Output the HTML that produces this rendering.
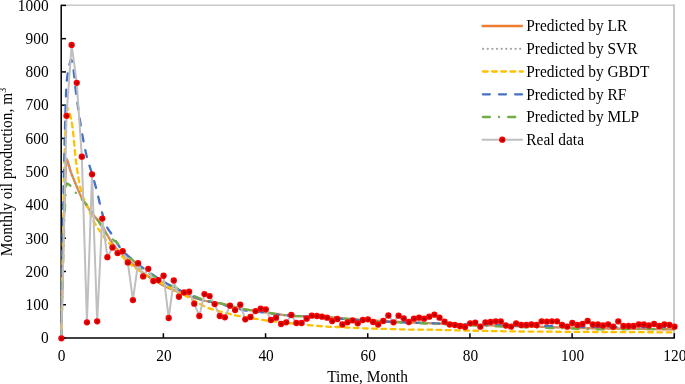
<!DOCTYPE html>
<html><head><meta charset="utf-8"><style>
html,body{margin:0;padding:0;background:#fff;}
svg{display:block;will-change:transform;}
text{font-family:"Liberation Serif",serif;font-size:15.4px;fill:#000;}
</style></head><body>
<svg width="685" height="384" viewBox="0 0 685 384">
<defs><radialGradient id="mk" cx="0.55" cy="0.55" r="0.5"><stop offset="0" stop-color="#9A0000"/><stop offset="0.3" stop-color="#B80000"/><stop offset="0.65" stop-color="#F00000"/><stop offset="1" stop-color="#FF0000"/></radialGradient></defs>
<rect width="685" height="384" fill="#fff"/>
<line x1="61.20" y1="5.2" x2="674.6" y2="5.2" stroke="#C8C8C8" stroke-width="1.5"/>
<line x1="674" y1="4.45" x2="674" y2="338.00" stroke="#C4C4C4" stroke-width="1.8"/>
<g stroke="#000" stroke-width="1.5">
<line x1="61.20" y1="4.80" x2="61.20" y2="338.60"/>
<line x1="60.60" y1="338.00" x2="674.90" y2="338.00"/>
<line x1="61.20" y1="338.00" x2="66.00" y2="338.00"/><line x1="61.20" y1="304.74" x2="66.00" y2="304.74"/><line x1="61.20" y1="271.48" x2="66.00" y2="271.48"/><line x1="61.20" y1="238.22" x2="66.00" y2="238.22"/><line x1="61.20" y1="204.96" x2="66.00" y2="204.96"/><line x1="61.20" y1="171.70" x2="66.00" y2="171.70"/><line x1="61.20" y1="138.44" x2="66.00" y2="138.44"/><line x1="61.20" y1="105.18" x2="66.00" y2="105.18"/><line x1="61.20" y1="71.92" x2="66.00" y2="71.92"/><line x1="61.20" y1="38.66" x2="66.00" y2="38.66"/><line x1="61.20" y1="5.40" x2="66.00" y2="5.40"/><line x1="61.20" y1="338.00" x2="61.20" y2="333.20"/><line x1="163.38" y1="338.00" x2="163.38" y2="333.20"/><line x1="265.57" y1="338.00" x2="265.57" y2="333.20"/><line x1="367.75" y1="338.00" x2="367.75" y2="333.20"/><line x1="469.93" y1="338.00" x2="469.93" y2="333.20"/><line x1="572.12" y1="338.00" x2="572.12" y2="333.20"/><line x1="674.30" y1="338.00" x2="674.30" y2="333.20"/>
</g>
<g>
<path d="M61.20 338.00C62.90 278.58 63.17 210.28 66.31 159.73C66.57 155.51 69.62 169.08 71.42 173.70C73.03 177.83 74.78 181.92 76.53 186.00C78.19 189.90 79.69 193.90 81.64 197.64C83.09 200.44 85.00 202.99 86.75 205.63C88.41 208.14 90.05 210.67 91.85 213.08C93.46 215.21 95.29 217.18 96.96 219.26C98.69 221.40 100.57 223.45 102.07 225.75C103.98 228.66 105.42 231.88 107.18 234.89C108.83 237.70 110.46 240.53 112.29 243.21C113.87 245.51 115.53 247.79 117.40 249.86C118.94 251.56 120.82 252.95 122.51 254.52C124.23 256.12 125.90 257.78 127.62 259.38C129.31 260.96 131.01 262.51 132.73 264.05C134.42 265.57 136.11 267.09 137.84 268.57C139.52 270.01 141.18 271.49 142.95 272.81C144.58 274.04 146.34 275.11 148.06 276.23C149.75 277.33 151.45 278.41 153.16 279.47C154.86 280.51 156.56 281.53 158.27 282.53C159.97 283.52 161.66 284.52 163.38 285.44C165.06 286.34 166.76 287.20 168.49 288.00C170.17 288.77 171.89 289.44 173.60 290.14C175.30 290.83 177.00 291.52 178.71 292.19C180.41 292.85 182.11 293.51 183.82 294.15C185.52 294.79 187.22 295.43 188.93 296.03C190.62 296.62 192.33 297.17 194.04 297.72C195.73 298.25 197.44 298.76 199.15 299.26C200.85 299.77 202.53 300.34 204.26 300.75C205.94 301.14 207.66 301.36 209.37 301.66C211.07 301.96 212.77 302.25 214.47 302.54C216.18 302.84 217.90 303.05 219.58 303.41C221.30 303.77 222.99 304.28 224.69 304.70C226.39 305.12 228.10 305.53 229.80 305.94C231.50 306.35 233.21 306.75 234.91 307.14C236.61 307.53 238.32 307.91 240.02 308.29C241.72 308.66 243.42 309.08 245.13 309.40C246.82 309.71 248.54 309.92 250.24 310.18C251.94 310.43 253.64 310.69 255.35 310.93C257.05 311.18 258.75 311.43 260.46 311.67C262.16 311.91 263.87 312.14 265.57 312.39C267.27 312.64 268.97 312.93 270.68 313.19C272.38 313.45 274.08 313.71 275.78 313.97C277.49 314.22 279.19 314.52 280.89 314.72C282.59 314.92 284.30 315.02 286.00 315.17C287.71 315.32 289.41 315.47 291.11 315.61C292.82 315.76 294.52 315.94 296.22 316.05C297.92 316.15 299.63 316.18 301.33 316.24C303.03 316.31 304.74 316.37 306.44 316.44C308.14 316.50 309.85 316.57 311.55 316.63C313.25 316.69 314.96 316.76 316.66 316.82C318.36 316.88 320.06 316.94 321.77 317.01C323.47 317.07 325.17 317.13 326.88 317.19C328.58 317.26 330.29 317.25 331.99 317.38C333.69 317.50 335.39 317.76 337.09 317.95C338.80 318.14 340.50 318.32 342.20 318.50C343.91 318.69 345.61 318.90 347.31 319.04C349.01 319.18 350.72 319.25 352.42 319.36C354.13 319.46 355.83 319.57 357.53 319.67C359.23 319.77 360.94 319.87 362.64 319.97C364.34 320.07 366.05 320.17 367.75 320.27C369.45 320.37 371.16 320.47 372.86 320.57C374.56 320.67 376.27 320.76 377.97 320.86C379.67 320.96 381.37 321.05 383.08 321.15C384.78 321.24 386.48 321.33 388.19 321.43C389.89 321.52 391.59 321.62 393.30 321.70C395.00 321.79 396.70 321.85 398.40 321.92C400.11 321.99 401.81 322.07 403.51 322.14C405.22 322.21 406.92 322.28 408.62 322.35C410.33 322.42 412.03 322.49 413.73 322.56C415.44 322.63 417.14 322.70 418.84 322.77C420.54 322.84 422.25 322.91 423.95 322.97C425.65 323.04 427.36 323.11 429.06 323.18C430.76 323.24 432.47 323.31 434.17 323.37C435.87 323.44 437.58 323.51 439.28 323.57C440.98 323.64 442.68 323.70 444.39 323.76C446.09 323.83 447.79 323.89 449.50 323.96C451.20 324.02 452.90 324.08 454.61 324.14C456.31 324.21 458.01 324.27 459.71 324.33C461.42 324.39 463.12 324.45 464.82 324.51C466.53 324.58 468.23 324.64 469.93 324.70C471.64 324.75 473.34 324.81 475.04 324.87C476.75 324.92 478.45 324.98 480.15 325.03C481.85 325.09 483.56 325.14 485.26 325.20C486.96 325.25 488.67 325.31 490.37 325.36C492.07 325.42 493.78 325.47 495.48 325.52C497.18 325.58 498.89 325.63 500.59 325.68C502.29 325.74 503.99 325.79 505.70 325.84C507.40 325.89 509.10 325.95 510.81 326.00C512.51 326.05 514.21 326.10 515.92 326.15C517.62 326.20 519.32 326.25 521.02 326.30C522.73 326.35 524.43 326.40 526.13 326.45C527.84 326.50 529.54 326.55 531.24 326.60C532.95 326.65 534.65 326.70 536.35 326.74C538.06 326.79 539.76 326.84 541.46 326.89C543.16 326.94 544.87 326.98 546.57 327.03C548.27 327.08 549.98 327.12 551.68 327.17C553.38 327.22 555.09 327.26 556.79 327.31C558.49 327.35 560.20 327.40 561.90 327.45C563.60 327.49 565.30 327.54 567.01 327.58C568.71 327.63 570.41 327.67 572.12 327.71C573.82 327.76 575.52 327.80 577.23 327.85C578.93 327.89 580.63 327.93 582.33 327.98C584.04 328.02 585.74 328.06 587.44 328.10C589.15 328.15 590.85 328.19 592.55 328.23C594.26 328.27 595.96 328.32 597.66 328.35C599.37 328.39 601.07 328.40 602.77 328.42C604.47 328.45 606.18 328.47 607.88 328.49C609.58 328.52 611.29 328.54 612.99 328.56C614.69 328.59 616.40 328.61 618.10 328.63C619.80 328.65 621.51 328.68 623.21 328.70C624.91 328.72 626.61 328.74 628.32 328.77C630.02 328.79 631.72 328.81 633.43 328.83C635.13 328.86 636.83 328.88 638.54 328.90C640.24 328.92 641.94 328.94 643.64 328.97C645.35 328.99 647.05 329.01 648.75 329.03C650.46 329.05 652.16 329.08 653.86 329.10C655.57 329.12 657.27 329.14 658.97 329.16C660.68 329.18 662.38 329.20 664.08 329.23C665.78 329.25 667.49 329.27 669.19 329.29C670.89 329.31 672.60 329.33 674.30 329.35" stroke="#ED7D31" stroke-width="2.30" fill="none"/><path d="M61.20 338.00C62.90 278.58 63.17 210.28 66.31 159.73C66.57 155.51 69.62 169.08 71.42 173.70C73.03 177.83 74.78 181.92 76.53 186.00C78.19 189.90 79.69 193.90 81.64 197.64C83.09 200.44 85.00 202.99 86.75 205.63C88.41 208.14 90.05 210.67 91.85 213.08C93.46 215.21 95.29 217.18 96.96 219.26C98.69 221.40 100.57 223.45 102.07 225.75C103.98 228.66 105.42 231.88 107.18 234.89C108.83 237.70 110.46 240.53 112.29 243.21C113.87 245.51 115.53 247.79 117.40 249.86C118.94 251.56 120.82 252.95 122.51 254.52C124.23 256.12 125.90 257.78 127.62 259.38C129.31 260.96 131.01 262.51 132.73 264.05C134.42 265.57 136.11 267.09 137.84 268.57C139.52 270.01 141.18 271.49 142.95 272.81C144.58 274.04 146.34 275.11 148.06 276.23C149.75 277.33 151.45 278.41 153.16 279.47C154.86 280.51 156.56 281.53 158.27 282.53C159.97 283.52 161.66 284.52 163.38 285.44C165.06 286.34 166.76 287.20 168.49 288.00C170.17 288.77 171.89 289.44 173.60 290.14C175.30 290.83 177.00 291.52 178.71 292.19C180.41 292.85 182.11 293.51 183.82 294.15C185.52 294.79 187.22 295.43 188.93 296.03C190.62 296.62 192.33 297.17 194.04 297.72C195.73 298.25 197.44 298.76 199.15 299.26C200.85 299.77 202.53 300.34 204.26 300.75C205.94 301.14 207.66 301.36 209.37 301.66C211.07 301.96 212.77 302.25 214.47 302.54C216.18 302.84 217.90 303.05 219.58 303.41C221.30 303.77 222.99 304.28 224.69 304.70C226.39 305.12 228.10 305.53 229.80 305.94C231.50 306.35 233.21 306.75 234.91 307.14C236.61 307.53 238.32 307.91 240.02 308.29C241.72 308.66 243.42 309.08 245.13 309.40C246.82 309.71 248.54 309.92 250.24 310.18C251.94 310.43 253.64 310.69 255.35 310.93C257.05 311.18 258.75 311.43 260.46 311.67C262.16 311.91 263.87 312.14 265.57 312.39C267.27 312.64 268.97 312.93 270.68 313.19C272.38 313.45 274.08 313.71 275.78 313.97C277.49 314.22 279.19 314.52 280.89 314.72C282.59 314.92 284.30 315.02 286.00 315.17C287.71 315.32 289.41 315.47 291.11 315.61C292.82 315.76 294.52 315.94 296.22 316.05C297.92 316.15 299.63 316.18 301.33 316.24C303.03 316.31 304.74 316.37 306.44 316.44C308.14 316.50 309.85 316.57 311.55 316.63C313.25 316.69 314.96 316.76 316.66 316.82C318.36 316.88 320.06 316.94 321.77 317.01C323.47 317.07 325.17 317.13 326.88 317.19C328.58 317.26 330.29 317.25 331.99 317.38C333.69 317.50 335.39 317.76 337.09 317.95C338.80 318.14 340.50 318.32 342.20 318.50C343.91 318.69 345.61 318.90 347.31 319.04C349.01 319.18 350.72 319.25 352.42 319.36C354.13 319.46 355.83 319.57 357.53 319.67C359.23 319.77 360.94 319.87 362.64 319.97C364.34 320.07 366.05 320.17 367.75 320.27C369.45 320.37 371.16 320.47 372.86 320.57C374.56 320.67 376.27 320.76 377.97 320.86C379.67 320.96 381.37 321.05 383.08 321.15C384.78 321.24 386.48 321.33 388.19 321.43C389.89 321.52 391.59 321.62 393.30 321.70C395.00 321.79 396.70 321.85 398.40 321.92C400.11 321.99 401.81 322.07 403.51 322.14C405.22 322.21 406.92 322.28 408.62 322.35C410.33 322.42 412.03 322.49 413.73 322.56C415.44 322.63 417.14 322.70 418.84 322.77C420.54 322.84 422.25 322.91 423.95 322.97C425.65 323.04 427.36 323.11 429.06 323.18C430.76 323.24 432.47 323.31 434.17 323.37C435.87 323.44 437.58 323.51 439.28 323.57C440.98 323.64 442.68 323.70 444.39 323.76C446.09 323.83 447.79 323.89 449.50 323.96C451.20 324.02 452.90 324.08 454.61 324.14C456.31 324.21 458.01 324.27 459.71 324.33C461.42 324.39 463.12 324.45 464.82 324.51C466.53 324.58 468.23 324.64 469.93 324.70C471.64 324.75 473.34 324.81 475.04 324.87C476.75 324.92 478.45 324.98 480.15 325.03C481.85 325.09 483.56 325.14 485.26 325.20C486.96 325.25 488.67 325.31 490.37 325.36C492.07 325.42 493.78 325.47 495.48 325.52C497.18 325.58 498.89 325.63 500.59 325.68C502.29 325.74 503.99 325.79 505.70 325.84C507.40 325.89 509.10 325.95 510.81 326.00C512.51 326.05 514.21 326.10 515.92 326.15C517.62 326.20 519.32 326.25 521.02 326.30C522.73 326.35 524.43 326.40 526.13 326.45C527.84 326.50 529.54 326.55 531.24 326.60C532.95 326.65 534.65 326.70 536.35 326.74C538.06 326.79 539.76 326.84 541.46 326.89C543.16 326.94 544.87 326.98 546.57 327.03C548.27 327.08 549.98 327.12 551.68 327.17C553.38 327.22 555.09 327.26 556.79 327.31C558.49 327.35 560.20 327.40 561.90 327.45C563.60 327.49 565.30 327.54 567.01 327.58C568.71 327.63 570.41 327.67 572.12 327.71C573.82 327.76 575.52 327.80 577.23 327.85C578.93 327.89 580.63 327.93 582.33 327.98C584.04 328.02 585.74 328.06 587.44 328.10C589.15 328.15 590.85 328.19 592.55 328.23C594.26 328.27 595.96 328.32 597.66 328.35C599.37 328.39 601.07 328.40 602.77 328.42C604.47 328.45 606.18 328.47 607.88 328.49C609.58 328.52 611.29 328.54 612.99 328.56C614.69 328.59 616.40 328.61 618.10 328.63C619.80 328.65 621.51 328.68 623.21 328.70C624.91 328.72 626.61 328.74 628.32 328.77C630.02 328.79 631.72 328.81 633.43 328.83C635.13 328.86 636.83 328.88 638.54 328.90C640.24 328.92 641.94 328.94 643.64 328.97C645.35 328.99 647.05 329.01 648.75 329.03C650.46 329.05 652.16 329.08 653.86 329.10C655.57 329.12 657.27 329.14 658.97 329.16C660.68 329.18 662.38 329.20 664.08 329.23C665.78 329.25 667.49 329.27 669.19 329.29C670.89 329.31 672.60 329.33 674.30 329.35" stroke="#A5A5A5" stroke-width="2.30" fill="none" stroke-linecap="round" stroke-dasharray="0.01 4.6"/><path d="M61.20 338.00C62.90 261.17 63.09 176.07 66.31 107.51C66.50 103.45 70.63 115.70 71.42 120.15C74.04 134.99 74.43 150.36 76.53 165.38C77.84 174.75 79.27 184.21 81.64 193.32C82.67 197.30 85.12 200.82 86.75 204.63C88.53 208.81 89.96 213.14 91.85 217.27C93.37 220.57 95.06 223.82 96.96 226.91C98.47 229.36 100.42 231.53 102.07 233.90C103.83 236.41 105.18 239.27 107.18 241.55C108.59 243.15 110.75 244.03 112.29 245.54C114.16 247.36 115.64 249.58 117.40 251.52C119.05 253.35 120.78 255.10 122.51 256.85C124.19 258.54 125.86 260.23 127.62 261.83C129.27 263.34 130.97 264.79 132.73 266.16C134.38 267.45 136.12 268.62 137.84 269.82C139.52 270.99 141.23 272.14 142.95 273.26C144.64 274.38 146.31 275.51 148.06 276.54C149.72 277.52 151.44 278.42 153.16 279.29C154.84 280.14 156.56 280.91 158.27 281.70C159.97 282.48 161.71 283.17 163.38 284.00C165.12 284.87 166.79 285.88 168.49 286.82C170.20 287.75 171.89 288.71 173.60 289.63C175.29 290.53 177.00 291.42 178.71 292.28C180.40 293.14 182.14 293.91 183.82 294.79C185.55 295.71 187.24 296.71 188.93 297.70C190.64 298.69 192.32 299.75 194.04 300.73C195.72 301.70 197.43 302.62 199.15 303.54C200.84 304.44 202.53 305.37 204.26 306.20C205.93 307.00 207.62 307.81 209.37 308.44C211.03 309.04 212.77 309.41 214.47 309.90C216.18 310.38 217.88 310.86 219.58 311.33C221.28 311.80 222.99 312.25 224.69 312.70C226.39 313.14 228.10 313.57 229.80 313.99C231.50 314.41 233.20 314.85 234.91 315.22C236.61 315.58 238.32 315.86 240.02 316.17C241.72 316.48 243.43 316.78 245.13 317.08C246.83 317.38 248.54 317.67 250.24 317.95C251.94 318.24 253.64 318.52 255.35 318.79C257.05 319.07 258.75 319.34 260.46 319.60C262.16 319.86 263.86 320.13 265.57 320.37C267.27 320.61 268.97 320.81 270.68 321.03C272.38 321.24 274.08 321.45 275.78 321.66C277.49 321.87 279.19 322.07 280.89 322.27C282.60 322.47 284.30 322.67 286.00 322.86C287.71 323.05 289.41 323.24 291.11 323.42C292.81 323.60 294.52 323.76 296.22 323.93C297.92 324.09 299.63 324.26 301.33 324.42C303.03 324.58 304.74 324.73 306.44 324.89C308.14 325.05 309.85 325.21 311.55 325.36C313.25 325.52 314.96 325.67 316.66 325.82C318.36 325.97 320.06 326.12 321.77 326.26C323.47 326.41 325.17 326.59 326.88 326.69C328.58 326.79 330.28 326.80 331.99 326.86C333.69 326.91 335.39 326.95 337.09 327.02C338.80 327.09 340.50 327.20 342.20 327.28C343.91 327.37 345.61 327.45 347.31 327.54C349.02 327.62 350.72 327.70 352.42 327.78C354.13 327.86 355.83 327.94 357.53 328.02C359.23 328.10 360.94 328.18 362.64 328.26C364.34 328.34 366.05 328.43 367.75 328.49C369.45 328.55 371.16 328.58 372.86 328.62C374.56 328.67 376.27 328.71 377.97 328.76C379.67 328.80 381.37 328.84 383.08 328.89C384.78 328.93 386.48 328.98 388.19 329.02C389.89 329.06 391.59 329.10 393.30 329.15C395.00 329.19 396.70 329.23 398.40 329.27C400.11 329.31 401.81 329.36 403.51 329.40C405.22 329.44 406.92 329.49 408.62 329.52C410.33 329.55 412.03 329.55 413.73 329.56C415.44 329.57 417.14 329.59 418.84 329.60C420.54 329.62 422.25 329.63 423.95 329.64C425.65 329.66 427.36 329.66 429.06 329.69C430.76 329.71 432.47 329.77 434.17 329.82C435.87 329.86 437.58 329.90 439.28 329.95C440.98 329.99 442.68 330.03 444.39 330.07C446.09 330.12 447.79 330.16 449.50 330.20C451.20 330.24 452.90 330.28 454.61 330.32C456.31 330.36 458.01 330.40 459.71 330.45C461.42 330.49 463.12 330.53 464.82 330.56C466.53 330.60 468.23 330.65 469.93 330.68C471.64 330.72 473.34 330.74 475.04 330.77C476.75 330.80 478.45 330.83 480.15 330.86C481.85 330.89 483.56 330.91 485.26 330.94C486.96 330.97 488.67 331.00 490.37 331.03C492.07 331.06 493.78 331.08 495.48 331.11C497.18 331.14 498.89 331.17 500.59 331.19C502.29 331.22 503.99 331.25 505.70 331.28C507.40 331.30 509.10 331.33 510.81 331.36C512.51 331.38 514.21 331.41 515.92 331.44C517.62 331.46 519.32 331.50 521.02 331.51C522.73 331.53 524.43 331.54 526.13 331.55C527.84 331.56 529.54 331.57 531.24 331.58C532.95 331.59 534.65 331.61 536.35 331.62C538.06 331.63 539.76 331.64 541.46 331.65C543.16 331.66 544.87 331.67 546.57 331.69C548.27 331.70 549.98 331.71 551.68 331.72C553.38 331.73 555.09 331.74 556.79 331.75C558.49 331.76 560.20 331.77 561.90 331.79C563.60 331.80 565.30 331.81 567.01 331.82C568.71 331.83 570.41 331.84 572.12 331.85C573.82 331.86 575.52 331.87 577.23 331.88C578.93 331.89 580.63 331.91 582.33 331.92C584.04 331.93 585.74 331.94 587.44 331.95C589.15 331.96 590.85 331.97 592.55 331.98C594.26 331.99 595.96 332.00 597.66 332.01C599.37 332.02 601.07 332.03 602.77 332.04C604.47 332.04 606.18 332.05 607.88 332.06C609.58 332.07 611.29 332.07 612.99 332.08C614.69 332.09 616.40 332.10 618.10 332.10C619.80 332.11 621.51 332.12 623.21 332.13C624.91 332.13 626.61 332.14 628.32 332.15C630.02 332.16 631.72 332.16 633.43 332.17C635.13 332.18 636.83 332.19 638.54 332.19C640.24 332.20 641.94 332.21 643.64 332.22C645.35 332.22 647.05 332.23 648.75 332.24C650.46 332.24 652.16 332.25 653.86 332.26C655.57 332.27 657.27 332.27 658.97 332.28C660.68 332.29 662.38 332.30 664.08 332.30C665.78 332.31 667.49 332.32 669.19 332.32C670.89 332.33 672.60 332.34 674.30 332.35" stroke="#FFC000" stroke-width="2.30" fill="none" stroke-linecap="round" stroke-dasharray="4.7 4.5"/><path d="M61.20 338.00C62.90 254.18 63.23 170.23 66.31 86.55C66.64 77.54 69.98 58.54 71.42 59.95C73.38 61.87 74.77 84.34 76.53 96.53C78.18 107.96 79.69 119.41 81.64 130.79C83.10 139.37 84.72 147.95 86.75 156.40C88.12 162.14 90.20 167.70 91.85 173.36C93.60 179.34 95.40 185.30 96.96 191.32C98.80 198.38 100.10 205.59 102.07 212.61C103.50 217.68 105.01 222.83 107.18 227.58C108.41 230.26 110.69 232.39 112.29 234.89C114.10 237.71 115.60 240.72 117.40 243.54C119.00 246.05 120.59 248.61 122.51 250.86C124.00 252.60 125.89 253.99 127.62 255.52C129.29 256.99 131.01 258.42 132.73 259.84C134.41 261.23 136.12 262.59 137.84 263.94C139.52 265.25 141.23 266.55 142.95 267.82C144.63 269.07 146.34 270.31 148.06 271.52C149.74 272.71 151.45 273.87 153.16 275.02C154.85 276.14 156.56 277.25 158.27 278.33C159.96 279.40 161.67 280.45 163.38 281.48C165.07 282.49 166.77 283.50 168.49 284.45C170.18 285.38 171.89 286.26 173.60 287.14C175.30 288.01 177.00 288.86 178.71 289.69C180.41 290.52 182.11 291.33 183.82 292.12C185.52 292.91 187.22 293.67 188.93 294.42C190.63 295.17 192.33 295.90 194.04 296.61C195.73 297.32 197.43 298.05 199.15 298.69C200.83 299.32 202.53 299.94 204.26 300.43C205.93 300.90 207.66 301.20 209.37 301.57C211.07 301.94 212.77 302.31 214.47 302.67C216.18 303.03 217.90 303.33 219.58 303.74C221.30 304.17 222.99 304.72 224.69 305.19C226.39 305.66 228.10 306.12 229.80 306.58C231.50 307.03 233.21 307.47 234.91 307.90C236.61 308.34 238.32 308.76 240.02 309.18C241.72 309.59 243.41 310.09 245.13 310.39C246.82 310.69 248.54 310.80 250.24 311.00C251.94 311.19 253.65 311.39 255.35 311.58C257.05 311.78 258.75 311.97 260.46 312.16C262.16 312.35 263.87 312.50 265.57 312.72C267.27 312.95 268.97 313.26 270.68 313.52C272.38 313.79 274.08 314.04 275.78 314.30C277.49 314.55 279.18 314.87 280.89 315.05C282.59 315.23 284.30 315.28 286.00 315.39C287.71 315.50 289.41 315.61 291.11 315.72C292.82 315.83 294.52 315.95 296.22 316.05C297.92 316.14 299.63 316.21 301.33 316.29C303.03 316.38 304.74 316.46 306.44 316.54C308.14 316.62 309.85 316.70 311.55 316.78C313.25 316.86 314.96 316.94 316.66 317.01C318.36 317.09 320.06 317.17 321.77 317.25C323.47 317.33 325.17 317.40 326.88 317.48C328.58 317.56 330.29 317.58 331.99 317.71C333.69 317.85 335.39 318.09 337.09 318.28C338.80 318.47 340.50 318.65 342.20 318.84C343.91 319.02 345.61 319.23 347.31 319.37C349.01 319.52 350.72 319.59 352.42 319.69C354.13 319.80 355.83 319.90 357.53 320.00C359.23 320.10 360.94 320.21 362.64 320.31C364.34 320.41 366.05 320.51 367.75 320.61C369.45 320.71 371.16 320.81 372.86 320.90C374.56 321.00 376.27 321.10 377.97 321.19C379.67 321.29 381.37 321.38 383.08 321.48C384.78 321.57 386.48 321.67 388.19 321.76C389.89 321.85 391.59 321.96 393.30 322.04C395.00 322.11 396.70 322.15 398.40 322.21C400.11 322.27 401.81 322.33 403.51 322.38C405.22 322.44 406.92 322.50 408.62 322.55C410.33 322.61 412.03 322.67 413.73 322.72C415.44 322.78 417.14 322.84 418.84 322.89C420.54 322.95 422.25 323.00 423.95 323.06C425.65 323.11 427.36 323.17 429.06 323.22C430.76 323.28 432.47 323.33 434.17 323.38C435.87 323.44 437.58 323.49 439.28 323.54C440.98 323.60 442.68 323.65 444.39 323.70C446.09 323.75 447.79 323.81 449.50 323.86C451.20 323.91 452.90 323.96 454.61 324.01C456.31 324.07 458.01 324.12 459.71 324.17C461.42 324.22 463.12 324.27 464.82 324.32C466.53 324.37 468.23 324.42 469.93 324.47C471.64 324.52 473.34 324.57 475.04 324.62C476.75 324.67 478.45 324.72 480.15 324.76C481.85 324.81 483.56 324.86 485.26 324.91C486.96 324.96 488.67 325.01 490.37 325.05C492.07 325.10 493.78 325.15 495.48 325.19C497.18 325.23 498.89 325.26 500.59 325.29C502.29 325.33 503.99 325.36 505.70 325.39C507.40 325.42 509.10 325.46 510.81 325.49C512.51 325.52 514.21 325.55 515.92 325.58C517.62 325.62 519.32 325.65 521.02 325.68C522.73 325.71 524.43 325.74 526.13 325.77C527.84 325.81 529.54 325.84 531.24 325.87C532.95 325.90 534.65 325.93 536.35 325.96C538.06 325.99 539.76 326.02 541.46 326.05C543.16 326.08 544.87 326.11 546.57 326.14C548.27 326.18 549.98 326.21 551.68 326.24C553.38 326.27 555.09 326.30 556.79 326.33C558.49 326.36 560.20 326.39 561.90 326.42C563.60 326.45 565.30 326.48 567.01 326.50C568.71 326.53 570.41 326.56 572.12 326.59C573.82 326.62 575.52 326.65 577.23 326.68C578.93 326.71 580.63 326.74 582.33 326.77C584.04 326.80 585.74 326.83 587.44 326.85C589.15 326.88 590.85 326.91 592.55 326.94C594.26 326.97 595.96 327.01 597.66 327.02C599.37 327.04 601.07 327.04 602.77 327.05C604.47 327.05 606.18 327.06 607.88 327.07C609.58 327.08 611.29 327.08 612.99 327.09C614.69 327.10 616.40 327.11 618.10 327.11C619.80 327.12 621.51 327.13 623.21 327.14C624.91 327.14 626.61 327.15 628.32 327.16C630.02 327.17 631.72 327.17 633.43 327.18C635.13 327.19 636.83 327.20 638.54 327.20C640.24 327.21 641.94 327.22 643.64 327.22C645.35 327.23 647.05 327.24 648.75 327.25C650.46 327.25 652.16 327.26 653.86 327.27C655.57 327.28 657.27 327.28 658.97 327.29C660.68 327.30 662.38 327.31 664.08 327.31C665.78 327.32 667.49 327.33 669.19 327.33C670.89 327.34 672.60 327.35 674.30 327.36" stroke="#4472C4" stroke-width="2.30" fill="none" stroke-linecap="round" stroke-dasharray="7.0 9.1"/><path d="M61.20 338.00C62.90 286.67 63.03 232.63 66.31 184.01C66.43 182.19 70.06 185.38 71.42 186.67C73.46 188.60 74.72 191.41 76.53 193.65C78.12 195.62 79.93 197.42 81.64 199.31C83.34 201.19 85.12 203.01 86.75 204.96C88.53 207.11 90.19 209.37 91.85 211.61C93.60 213.97 95.36 216.31 96.96 218.76C98.77 221.52 100.31 224.46 102.07 227.24C103.71 229.83 105.21 232.58 107.18 234.89C108.62 236.57 110.56 237.81 112.29 239.22C113.97 240.58 115.86 241.71 117.40 243.21C119.27 245.03 120.83 247.18 122.51 249.20C124.24 251.28 125.78 253.54 127.62 255.52C129.18 257.19 131.06 258.57 132.73 260.14C134.46 261.78 136.11 263.50 137.84 265.14C139.51 266.73 141.12 268.42 142.95 269.82C144.53 271.02 146.34 271.91 148.06 272.93C149.75 273.94 151.45 274.94 153.16 275.91C154.86 276.87 156.56 277.82 158.27 278.75C159.97 279.67 161.68 280.55 163.38 281.46C165.09 282.36 166.78 283.29 168.49 284.18C170.19 285.06 171.89 285.92 173.60 286.77C175.30 287.61 177.00 288.43 178.71 289.23C180.41 290.03 182.11 290.81 183.82 291.58C185.52 292.34 187.22 293.08 188.93 293.81C190.63 294.53 192.33 295.23 194.04 295.94C195.74 296.64 197.44 297.35 199.15 298.04C200.85 298.73 202.51 299.56 204.26 300.08C205.91 300.58 207.66 300.77 209.37 301.11C211.07 301.45 212.77 301.78 214.47 302.11C216.18 302.43 217.90 302.69 219.58 303.08C221.30 303.47 222.99 304.00 224.69 304.44C226.39 304.89 228.10 305.33 229.80 305.76C231.50 306.19 233.21 306.61 234.91 307.02C236.61 307.43 238.32 307.83 240.02 308.23C241.72 308.63 243.42 309.07 245.13 309.40C246.82 309.72 248.54 309.92 250.24 310.18C251.94 310.43 253.64 310.69 255.35 310.93C257.05 311.18 258.75 311.43 260.46 311.67C262.16 311.91 263.87 312.14 265.57 312.39C267.27 312.64 268.97 312.93 270.68 313.19C272.38 313.45 274.08 313.71 275.78 313.97C277.49 314.22 279.19 314.52 280.89 314.72C282.59 314.92 284.30 315.02 286.00 315.17C287.71 315.32 289.41 315.47 291.11 315.61C292.82 315.76 294.52 315.95 296.22 316.05C297.92 316.14 299.63 316.15 301.33 316.19C303.03 316.24 304.74 316.29 306.44 316.34C308.14 316.39 309.85 316.43 311.55 316.48C313.25 316.53 314.96 316.58 316.66 316.62C318.36 316.67 320.06 316.72 321.77 316.77C323.47 316.81 325.17 316.86 326.88 316.91C328.58 316.95 330.29 316.93 331.99 317.05C333.69 317.16 335.39 317.43 337.09 317.62C338.80 317.80 340.50 317.99 342.20 318.17C343.91 318.35 345.61 318.55 347.31 318.71C349.01 318.87 350.72 318.98 352.42 319.11C354.13 319.24 355.83 319.37 357.53 319.50C359.23 319.63 360.94 319.76 362.64 319.89C364.34 320.02 366.05 320.14 367.75 320.27C369.45 320.39 371.16 320.51 372.86 320.63C374.56 320.76 376.27 320.88 377.97 321.00C379.67 321.11 381.37 321.23 383.08 321.35C384.78 321.47 386.48 321.58 388.19 321.70C389.89 321.81 391.59 321.94 393.30 322.04C395.00 322.13 396.70 322.20 398.40 322.29C400.11 322.37 401.81 322.45 403.51 322.53C405.22 322.61 406.92 322.69 408.62 322.77C410.33 322.85 412.03 322.93 413.73 323.01C415.44 323.09 417.14 323.17 418.84 323.25C420.54 323.33 422.25 323.40 423.95 323.48C425.65 323.55 427.36 323.63 429.06 323.71C430.76 323.78 432.47 323.86 434.17 323.93C435.87 324.00 437.58 324.08 439.28 324.15C440.98 324.22 442.68 324.30 444.39 324.37C446.09 324.44 447.79 324.51 449.50 324.58C451.20 324.65 452.90 324.72 454.61 324.79C456.31 324.86 458.01 324.93 459.71 325.00C461.42 325.07 463.12 325.13 464.82 325.20C466.53 325.27 468.23 325.34 469.93 325.40C471.64 325.47 473.34 325.53 475.04 325.60C476.75 325.67 478.45 325.73 480.15 325.79C481.85 325.86 483.56 325.92 485.26 325.99C486.96 326.05 488.67 326.11 490.37 326.17C492.07 326.24 493.78 326.30 495.48 326.36C497.18 326.42 498.89 326.47 500.59 326.53C502.29 326.59 503.99 326.64 505.70 326.70C507.40 326.76 509.10 326.81 510.81 326.87C512.51 326.92 514.21 326.98 515.92 327.03C517.62 327.09 519.32 327.14 521.02 327.19C522.73 327.25 524.43 327.30 526.13 327.35C527.84 327.40 529.54 327.46 531.24 327.51C532.95 327.56 534.65 327.61 536.35 327.66C538.06 327.72 539.76 327.77 541.46 327.82C543.16 327.87 544.87 327.92 546.57 327.97C548.27 328.02 549.98 328.07 551.68 328.11C553.38 328.16 555.09 328.21 556.79 328.26C558.49 328.31 560.20 328.36 561.90 328.40C563.60 328.45 565.30 328.50 567.01 328.55C568.71 328.59 570.41 328.64 572.12 328.69C573.82 328.73 575.52 328.78 577.23 328.82C578.93 328.87 580.63 328.91 582.33 328.96C584.04 329.00 585.74 329.05 587.44 329.09C589.15 329.14 590.85 329.18 592.55 329.22C594.26 329.27 595.96 329.33 597.66 329.35C599.37 329.37 601.07 329.34 602.77 329.33C604.47 329.32 606.18 329.32 607.88 329.31C609.58 329.30 611.29 329.29 612.99 329.29C614.69 329.28 616.40 329.27 618.10 329.26C619.80 329.26 621.51 329.25 623.21 329.24C624.91 329.24 626.61 329.23 628.32 329.22C630.02 329.21 631.72 329.21 633.43 329.20C635.13 329.19 636.83 329.18 638.54 329.18C640.24 329.17 641.94 329.16 643.64 329.15C645.35 329.15 647.05 329.14 648.75 329.13C650.46 329.12 652.16 329.12 653.86 329.11C655.57 329.10 657.27 329.09 658.97 329.09C660.68 329.08 662.38 329.07 664.08 329.06C665.78 329.06 667.49 329.05 669.19 329.04C670.89 329.03 672.60 329.03 674.30 329.02" stroke="#70AD47" stroke-width="2.30" fill="none" stroke-linecap="round" stroke-dasharray="7.0 9.1 0.1 9.1"/><polyline points="61.40,338.30 66.51,115.79 71.62,44.95 76.73,82.86 81.84,156.70 86.95,322.34 92.05,174.33 97.16,321.34 102.27,218.56 107.38,257.15 112.49,247.50 117.60,253.15 122.71,251.16 127.82,262.47 132.93,300.05 138.04,263.13 143.15,276.44 148.26,268.79 153.36,281.09 158.47,280.10 163.58,275.77 168.69,318.01 173.80,280.43 178.91,296.73 184.02,292.40 189.13,291.74 194.24,303.71 199.35,316.02 204.46,294.06 209.57,296.06 214.67,304.04 219.78,316.02 224.89,317.35 230.00,305.71 235.11,310.03 240.22,304.71 245.33,319.34 250.44,317.01 255.55,311.03 260.66,308.70 265.77,309.36 270.88,320.01 275.98,317.68 281.09,324.00 286.20,322.34 291.31,315.02 296.42,323.00 301.53,323.00 306.64,318.68 311.75,315.68 316.86,316.02 321.97,316.68 327.08,317.68 332.19,321.00 337.29,319.01 342.40,324.50 347.51,322.34 352.62,320.34 357.73,323.33 362.84,320.01 367.95,319.34 373.06,322.00 378.17,324.50 383.28,321.00 388.39,315.52 393.50,322.34 398.60,315.68 403.71,318.34 408.82,322.00 413.93,318.68 419.04,317.68 424.15,318.68 429.26,316.68 434.37,314.69 439.48,317.68 444.59,321.67 449.70,324.50 454.81,325.00 459.91,325.99 465.02,326.99 470.13,323.33 475.24,322.67 480.35,326.66 485.46,322.34 490.57,322.00 495.68,321.34 500.79,321.34 505.90,325.49 511.01,326.66 516.12,323.33 521.23,325.00 526.33,325.00 531.44,324.50 536.55,325.00 541.66,321.34 546.77,321.67 551.88,321.34 556.99,321.34 562.10,325.00 567.21,326.66 572.32,323.00 577.43,325.00 582.53,324.00 587.64,321.00 592.75,324.50 597.86,324.50 602.97,325.49 608.08,324.33 613.19,326.66 618.30,321.34 623.41,325.99 628.52,325.99 633.63,325.99 638.74,324.50 643.85,324.50 648.95,325.49 654.06,324.00 659.17,325.99 664.28,324.50 669.39,325.00 674.50,326.66" stroke="#BFBFBF" stroke-width="2" fill="none" stroke-linejoin="round"/>
</g>
<g fill="url(#mk)"><circle cx="61.40" cy="338.30" r="3.15"/><circle cx="66.51" cy="115.79" r="3.15"/><circle cx="71.62" cy="44.95" r="3.15"/><circle cx="76.73" cy="82.86" r="3.15"/><circle cx="81.84" cy="156.70" r="3.15"/><circle cx="86.95" cy="322.34" r="3.15"/><circle cx="92.05" cy="174.33" r="3.15"/><circle cx="97.16" cy="321.34" r="3.15"/><circle cx="102.27" cy="218.56" r="3.15"/><circle cx="107.38" cy="257.15" r="3.15"/><circle cx="112.49" cy="247.50" r="3.15"/><circle cx="117.60" cy="253.15" r="3.15"/><circle cx="122.71" cy="251.16" r="3.15"/><circle cx="127.82" cy="262.47" r="3.15"/><circle cx="132.93" cy="300.05" r="3.15"/><circle cx="138.04" cy="263.13" r="3.15"/><circle cx="143.15" cy="276.44" r="3.15"/><circle cx="148.26" cy="268.79" r="3.15"/><circle cx="153.36" cy="281.09" r="3.15"/><circle cx="158.47" cy="280.10" r="3.15"/><circle cx="163.58" cy="275.77" r="3.15"/><circle cx="168.69" cy="318.01" r="3.15"/><circle cx="173.80" cy="280.43" r="3.15"/><circle cx="178.91" cy="296.73" r="3.15"/><circle cx="184.02" cy="292.40" r="3.15"/><circle cx="189.13" cy="291.74" r="3.15"/><circle cx="194.24" cy="303.71" r="3.15"/><circle cx="199.35" cy="316.02" r="3.15"/><circle cx="204.46" cy="294.06" r="3.15"/><circle cx="209.57" cy="296.06" r="3.15"/><circle cx="214.67" cy="304.04" r="3.15"/><circle cx="219.78" cy="316.02" r="3.15"/><circle cx="224.89" cy="317.35" r="3.15"/><circle cx="230.00" cy="305.71" r="3.15"/><circle cx="235.11" cy="310.03" r="3.15"/><circle cx="240.22" cy="304.71" r="3.15"/><circle cx="245.33" cy="319.34" r="3.15"/><circle cx="250.44" cy="317.01" r="3.15"/><circle cx="255.55" cy="311.03" r="3.15"/><circle cx="260.66" cy="308.70" r="3.15"/><circle cx="265.77" cy="309.36" r="3.15"/><circle cx="270.88" cy="320.01" r="3.15"/><circle cx="275.98" cy="317.68" r="3.15"/><circle cx="281.09" cy="324.00" r="3.15"/><circle cx="286.20" cy="322.34" r="3.15"/><circle cx="291.31" cy="315.02" r="3.15"/><circle cx="296.42" cy="323.00" r="3.15"/><circle cx="301.53" cy="323.00" r="3.15"/><circle cx="306.64" cy="318.68" r="3.15"/><circle cx="311.75" cy="315.68" r="3.15"/><circle cx="316.86" cy="316.02" r="3.15"/><circle cx="321.97" cy="316.68" r="3.15"/><circle cx="327.08" cy="317.68" r="3.15"/><circle cx="332.19" cy="321.00" r="3.15"/><circle cx="337.29" cy="319.01" r="3.15"/><circle cx="342.40" cy="324.50" r="3.15"/><circle cx="347.51" cy="322.34" r="3.15"/><circle cx="352.62" cy="320.34" r="3.15"/><circle cx="357.73" cy="323.33" r="3.15"/><circle cx="362.84" cy="320.01" r="3.15"/><circle cx="367.95" cy="319.34" r="3.15"/><circle cx="373.06" cy="322.00" r="3.15"/><circle cx="378.17" cy="324.50" r="3.15"/><circle cx="383.28" cy="321.00" r="3.15"/><circle cx="388.39" cy="315.52" r="3.15"/><circle cx="393.50" cy="322.34" r="3.15"/><circle cx="398.60" cy="315.68" r="3.15"/><circle cx="403.71" cy="318.34" r="3.15"/><circle cx="408.82" cy="322.00" r="3.15"/><circle cx="413.93" cy="318.68" r="3.15"/><circle cx="419.04" cy="317.68" r="3.15"/><circle cx="424.15" cy="318.68" r="3.15"/><circle cx="429.26" cy="316.68" r="3.15"/><circle cx="434.37" cy="314.69" r="3.15"/><circle cx="439.48" cy="317.68" r="3.15"/><circle cx="444.59" cy="321.67" r="3.15"/><circle cx="449.70" cy="324.50" r="3.15"/><circle cx="454.81" cy="325.00" r="3.15"/><circle cx="459.91" cy="325.99" r="3.15"/><circle cx="465.02" cy="326.99" r="3.15"/><circle cx="470.13" cy="323.33" r="3.15"/><circle cx="475.24" cy="322.67" r="3.15"/><circle cx="480.35" cy="326.66" r="3.15"/><circle cx="485.46" cy="322.34" r="3.15"/><circle cx="490.57" cy="322.00" r="3.15"/><circle cx="495.68" cy="321.34" r="3.15"/><circle cx="500.79" cy="321.34" r="3.15"/><circle cx="505.90" cy="325.49" r="3.15"/><circle cx="511.01" cy="326.66" r="3.15"/><circle cx="516.12" cy="323.33" r="3.15"/><circle cx="521.23" cy="325.00" r="3.15"/><circle cx="526.33" cy="325.00" r="3.15"/><circle cx="531.44" cy="324.50" r="3.15"/><circle cx="536.55" cy="325.00" r="3.15"/><circle cx="541.66" cy="321.34" r="3.15"/><circle cx="546.77" cy="321.67" r="3.15"/><circle cx="551.88" cy="321.34" r="3.15"/><circle cx="556.99" cy="321.34" r="3.15"/><circle cx="562.10" cy="325.00" r="3.15"/><circle cx="567.21" cy="326.66" r="3.15"/><circle cx="572.32" cy="323.00" r="3.15"/><circle cx="577.43" cy="325.00" r="3.15"/><circle cx="582.53" cy="324.00" r="3.15"/><circle cx="587.64" cy="321.00" r="3.15"/><circle cx="592.75" cy="324.50" r="3.15"/><circle cx="597.86" cy="324.50" r="3.15"/><circle cx="602.97" cy="325.49" r="3.15"/><circle cx="608.08" cy="324.33" r="3.15"/><circle cx="613.19" cy="326.66" r="3.15"/><circle cx="618.30" cy="321.34" r="3.15"/><circle cx="623.41" cy="325.99" r="3.15"/><circle cx="628.52" cy="325.99" r="3.15"/><circle cx="633.63" cy="325.99" r="3.15"/><circle cx="638.74" cy="324.50" r="3.15"/><circle cx="643.85" cy="324.50" r="3.15"/><circle cx="648.95" cy="325.49" r="3.15"/><circle cx="654.06" cy="324.00" r="3.15"/><circle cx="659.17" cy="325.99" r="3.15"/><circle cx="664.28" cy="324.50" r="3.15"/><circle cx="669.39" cy="325.00" r="3.15"/><circle cx="674.50" cy="326.66" r="3.15"/></g>
<g><text transform="translate(48.60 343.30) scale(1 1.090)" text-anchor="end">0</text><text transform="translate(48.60 310.04) scale(1 1.090)" text-anchor="end">100</text><text transform="translate(48.60 276.78) scale(1 1.090)" text-anchor="end">200</text><text transform="translate(48.60 243.52) scale(1 1.090)" text-anchor="end">300</text><text transform="translate(48.60 210.26) scale(1 1.090)" text-anchor="end">400</text><text transform="translate(48.60 177.00) scale(1 1.090)" text-anchor="end">500</text><text transform="translate(48.60 143.74) scale(1 1.090)" text-anchor="end">600</text><text transform="translate(48.60 110.48) scale(1 1.090)" text-anchor="end">700</text><text transform="translate(48.60 77.22) scale(1 1.090)" text-anchor="end">800</text><text transform="translate(48.60 43.96) scale(1 1.090)" text-anchor="end">900</text><text transform="translate(48.60 10.70) scale(1 1.090)" text-anchor="end">1000</text><text transform="translate(61.70 361.30) scale(1 1.090)" text-anchor="middle">0</text><text transform="translate(163.88 361.30) scale(1 1.090)" text-anchor="middle">20</text><text transform="translate(266.07 361.30) scale(1 1.090)" text-anchor="middle">40</text><text transform="translate(368.25 361.30) scale(1 1.090)" text-anchor="middle">60</text><text transform="translate(470.43 361.30) scale(1 1.090)" text-anchor="middle">80</text><text transform="translate(572.62 361.30) scale(1 1.090)" text-anchor="middle">100</text><text transform="translate(674.80 361.30) scale(1 1.090)" text-anchor="middle">120</text></g>
<text transform="translate(367.50 381.70) scale(1 1.090)" text-anchor="middle">Time, Month</text>
<text transform="translate(12.3 172) rotate(-90) scale(1 1.09)" text-anchor="middle">Monthly oil production, m<tspan font-size="10" dy="-6">3</tspan></text>
<line x1="481.7" y1="26.00" x2="522.8" y2="26.00" stroke="#ED7D31" stroke-width="2.30"/><line x1="483.1" y1="48.80" x2="522.8" y2="48.80" stroke="#A5A5A5" stroke-width="2.30" stroke-linecap="round" stroke-dasharray="0.01 4.63"/><line x1="482.9" y1="71.50" x2="522.8" y2="71.50" stroke="#FFC000" stroke-width="2.30" stroke-linecap="round" stroke-dasharray="4.7 4.5"/><line x1="482.9" y1="94.30" x2="522.8" y2="94.30" stroke="#4472C4" stroke-width="2.30" stroke-linecap="round" stroke-dasharray="7.0 9.1"/><line x1="482.9" y1="117.00" x2="522.8" y2="117.00" stroke="#70AD47" stroke-width="2.30" stroke-linecap="round" stroke-dasharray="7.0 9.1 0.1 9.1"/><line x1="481.7" y1="139.70" x2="522.8" y2="139.70" stroke="#BFBFBF" stroke-width="2"/><circle cx="502.25" cy="139.70" r="3.15" fill="url(#mk)"/>
<text transform="translate(526.30 31.40) scale(1 1.090)">Predicted by LR</text><text transform="translate(526.30 54.20) scale(1 1.090)">Predicted by SVR</text><text transform="translate(526.30 76.90) scale(1 1.090)">Predicted by GBDT</text><text transform="translate(526.30 99.70) scale(1 1.090)">Predicted by RF</text><text transform="translate(526.30 122.40) scale(1 1.090)">Predicted by MLP</text><text transform="translate(526.30 145.10) scale(1 1.090)">Real data</text>
</svg>
</body></html>
